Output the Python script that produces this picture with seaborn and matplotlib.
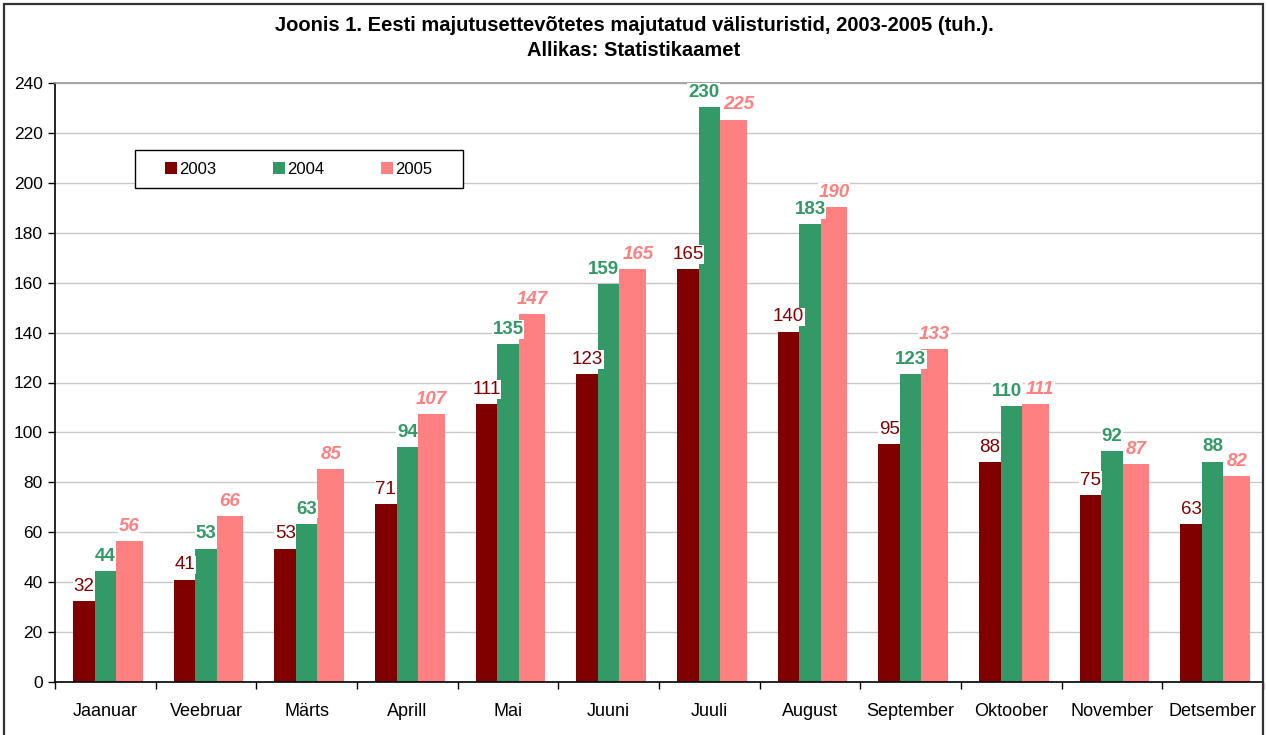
import matplotlib
matplotlib.use("Agg")
import matplotlib.pyplot as plt
from matplotlib.patches import Rectangle, Patch
import seaborn as sns
import pandas as pd
import numpy as np

months = ["Jaanuar", "Veebruar", "Märts", "Aprill", "Mai", "Juuni", "Juuli",
          "August", "September", "Oktoober", "November", "Detsember"]
years = ["2003", "2004", "2005"]
v2003 = [32.4, 41.0, 53.4, 71.3, 111.3, 123.4, 165.4, 140.4, 95.4, 88.1, 74.8, 63.3]
v2004 = [44.4, 53.4, 63.4, 94.2, 135.3, 159.4, 230.2, 183.4, 123.4, 110.4, 92.4, 88.3]
v2005 = [56.4, 66.4, 85.4, 107.3, 147.3, 165.3, 225.3, 190.4, 133.3, 111.3, 87.4, 82.4]
title = "Joonis 1. Eesti majutusettevõtetes majutatud välisturistid, 2003-2005 (tuh.).\nAllikas: Statistikaamet"

colors = ["#800000", "#339966", "#FF8080"]

df = pd.DataFrame({
    "month": months * 3,
    "year": [y for y in years for _ in months],
    "value": v2003 + v2004 + v2005,
})

sns.set_style("white")
plt.rcParams["font.family"] = ["Liberation Sans", "DejaVu Sans"]
plt.rcParams["text.color"] = "black"
plt.rcParams["xtick.color"] = "black"
plt.rcParams["ytick.color"] = "black"

W, H = 1267, 735
fig = plt.figure(figsize=(W / 100, H / 100), dpi=100)
ax = fig.add_axes([55 / W, 1 - 682 / H, (1263 - 55) / W, (682 - 83) / H])

sns.barplot(data=df, x="month", y="value", hue="year", order=months,
            hue_order=years, palette=colors, saturation=1, width=0.64,
            ax=ax, legend=False, linewidth=0, zorder=2)

# salmon bars appear slightly wider in the reference
for p in ax.containers[2]:
    p.set_width(p.get_width() + 0.05)

ax.set_ylim(0, 240)
ax.set_xlim(-0.5, len(months) - 0.5)
ax.set_yticks(np.arange(0, 241, 20))
ax.yaxis.grid(True, color="#c8c8c8", linewidth=1, zorder=0)
ax.set_axisbelow(True)
ax.set_xlabel("")
ax.set_ylabel("")

for s in ["left", "bottom"]:
    ax.spines[s].set_color("black")
    ax.spines[s].set_linewidth(1.2)
ax.spines["top"].set_color("#999999")
ax.spines["top"].set_linewidth(1.2)
ax.spines["right"].set_visible(False)

ax.tick_params(axis="y", which="major", direction="out", length=5, width=1,
               color="black", labelcolor="black", labelsize=12.5, pad=4, left=True)
ax.tick_params(axis="x", which="major", length=0, labelsize=13, pad=15,
               labelcolor="black")
ax.set_xticks(np.arange(-0.5, len(months), 1), minor=True)
ax.tick_params(axis="x", which="minor", direction="out", length=5, width=1,
               color="black", bottom=True)

label_styles = [
    dict(color=colors[0], fontweight="normal", fontstyle="normal"),
    dict(color=colors[1], fontweight="bold", fontstyle="normal"),
    dict(color=colors[2], fontweight="bold", fontstyle="italic"),
]
PAD = 4.5
labels = []
for cont, st in zip(ax.containers, label_styles):
    labels.append(ax.bar_label(cont, fmt="%.0f", padding=PAD, fontsize=13.5,
                               zorder=5,
                               bbox=dict(facecolor="white", edgecolor="none", pad=0.6),
                               **st))

# push apart overlapping neighbouring labels (as the original layout does)
fig.canvas.draw()
rend = fig.canvas.get_renderer()
for m in range(len(months)):
    for a, b in [(0, 1), (1, 2)]:
        ta, tb = labels[a][m], labels[b][m]
        ea = ta.get_window_extent(rend)
        eb = tb.get_window_extent(rend)
        ox = ea.x1 - eb.x0
        oy = min(ea.y1, eb.y1) - max(ea.y0, eb.y0)
        if ox > -2 and oy > 0:
            sh = (ox / 2 + 2) * 72 / 100
            xa, ya = ta.xyann
            xb, yb = tb.xyann
            ta.xyann = (xa - sh, ya)
            tb.xyann = (xb + sh, yb)

# legend
lx0, lx1, ly0, ly1 = 135, 463, 150, 188
ax.add_patch(Rectangle(((lx0 - 55) / 1208, (682 - ly1) / 599),
                       (lx1 - lx0) / 1208, (ly1 - ly0) / 599,
                       transform=ax.transAxes, facecolor="white",
                       edgecolor="black", linewidth=1, zorder=6))
handles = [Patch(facecolor=c, edgecolor="none", label=y) for c, y in zip(colors, years)]
leg = ax.legend(handles=handles, loc="center",
                bbox_to_anchor=(((lx0 + lx1) / 2 - 55) / 1208, (682 - (ly0 + ly1) / 2) / 599),
                ncol=3, frameon=False, fontsize=12, handlelength=0.7,
                handleheight=0.7, handletextpad=0.15, columnspacing=3.4,
                borderaxespad=0)
leg.set_zorder(7)

fig.text(634 / W, 1 - 38 / H, title, ha="center", va="center",
         fontsize=14.5, fontweight="bold", linespacing=1.45, color="black")

fig.add_artist(Rectangle((4 / W, -0.02), (1263 - 4) / W, (735 - 4) / H + 0.02,
                         transform=fig.transFigure, fill=False,
                         edgecolor="#333333", linewidth=1.6))

fig.savefig("out.png", dpi=100, facecolor="white")
